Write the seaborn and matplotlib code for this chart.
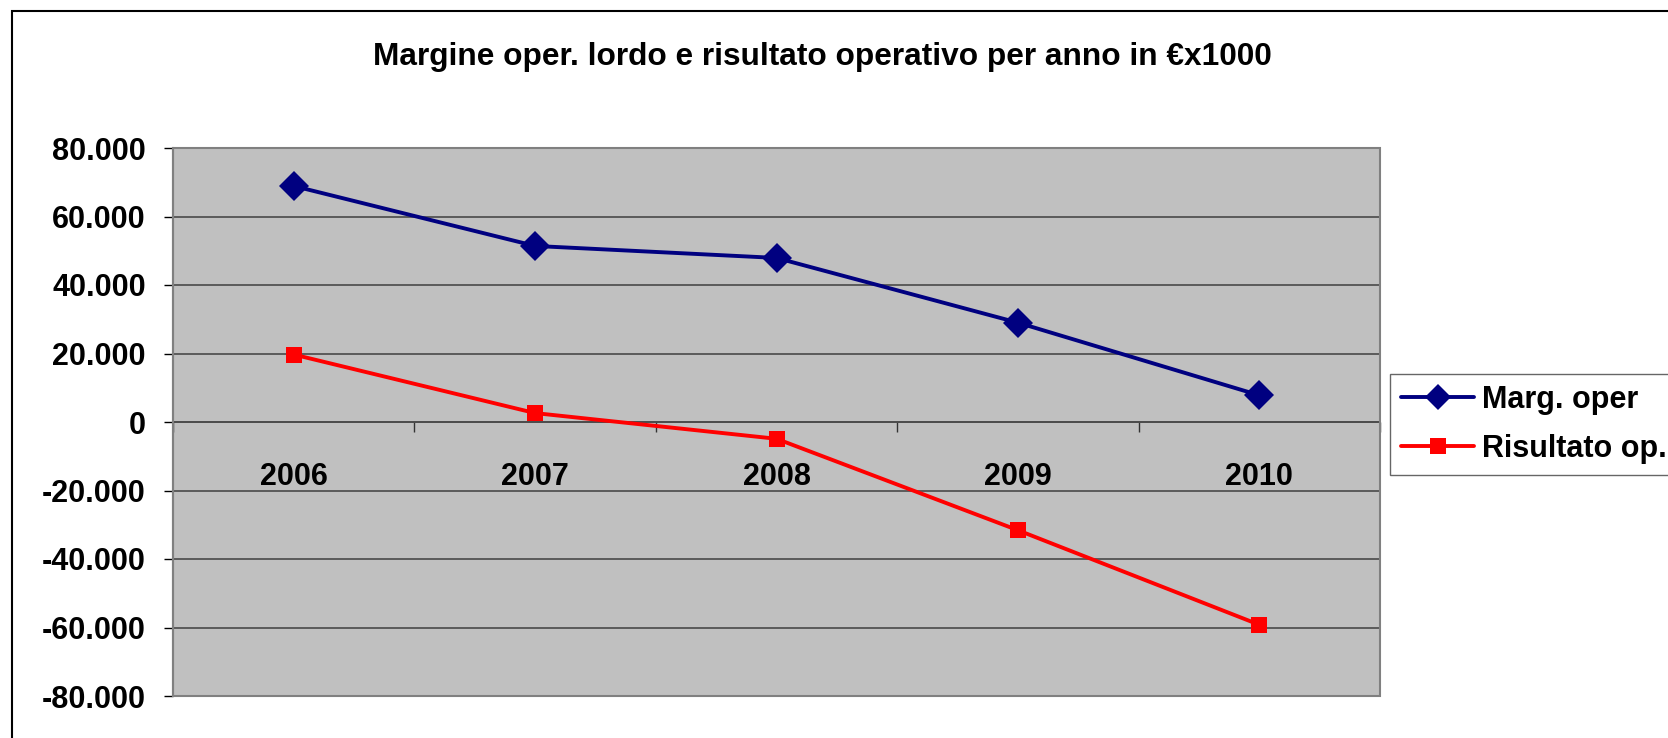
import matplotlib
matplotlib.use("Agg")
import matplotlib.pyplot as plt
import seaborn as sns
import numpy as np
import pandas as pd
from matplotlib.ticker import FuncFormatter, FixedLocator
from matplotlib.patches import Rectangle
from matplotlib.lines import Line2D

# ---- data ----
years = ["2006", "2007", "2008", "2009", "2010"]
marg_oper = [68900, 51400, 47900, 29000, 7800]
risultato_op = [19700, 2600, -4900, -31600, -59200]
series_names = ["Marg. oper", "Risultato op."]
title = "Margine oper. lordo e risultato operativo per anno in €x1000"
y_ticks = [-80000, -60000, -40000, -20000, 0, 20000, 40000, 60000, 80000]

sns.set_style("white")
plt.rcParams['font.family'] = ['Liberation Sans', 'DejaVu Sans']
plt.rcParams['font.weight'] = 'bold'
plt.rcParams['text.color'] = 'black'
plt.rcParams['xtick.color'] = 'black'
plt.rcParams['ytick.color'] = 'black'
plt.rcParams['xtick.labelcolor'] = 'black'
plt.rcParams['ytick.labelcolor'] = 'black'

W, H = 1668, 738
fig = plt.figure(figsize=(W / 100, H / 100), dpi=100)

L, R, T, B = 173, 1380, 148, 696
ax = fig.add_axes([L / W, 1 - B / H, (R - L) / W, (B - T) / H])
ax.set_facecolor("#C0C0C0")

BLUE, RED = "#000080", "#FF0000"
LW = 2.8
MS_D, MS_S = 15.5, 11

xpos = np.arange(len(years))
df = pd.DataFrame({"x": np.concatenate([xpos, xpos]),
                   "val": marg_oper + risultato_op,
                   "serie": [series_names[0]] * len(years) + [series_names[1]] * len(years)})

sns.lineplot(data=df[df.serie == series_names[0]], x="x", y="val", ax=ax,
             color=BLUE, lw=LW, marker="D", markersize=MS_D,
             markeredgewidth=0, legend=False, zorder=5)
sns.lineplot(data=df[df.serie == series_names[1]], x="x", y="val", ax=ax,
             color=RED, lw=LW, marker="s", markersize=MS_S,
             markeredgewidth=0, legend=False, zorder=5)

ax.set_xlim(-0.5, len(years) - 0.5)
ax.set_ylim(-80000, 80000)
ax.set_xlabel("")
ax.set_ylabel("")

# y axis
ax.set_yticks(y_ticks)
ax.yaxis.set_major_formatter(FuncFormatter(lambda v, p: f"{int(v):,}".replace(",", ".")))
ax.tick_params(axis="y", which="major", left=True, direction="out", length=6.5, width=1,
               color="black", pad=13, labelsize=22)
for lab in ax.get_yticklabels():
    lab.set_fontweight("bold")
ax.grid(axis="y", color="#4a4a4a", lw=1.2)
ax.grid(axis="x", visible=False)
ax.set_axisbelow(True)

# category axis at zero
for s in ["top", "right"]:
    ax.spines[s].set_visible(False)
ax.spines["left"].set_color("#808080")
ax.spines["left"].set_linewidth(1.5)
ax.spines["bottom"].set_position(("data", 0))
ax.spines["bottom"].set_color("#4a4a4a")
ax.spines["bottom"].set_linewidth(1.2)
ax.set_xticks(xpos)
ax.set_xticklabels(years)
ax.xaxis.set_minor_locator(FixedLocator(np.arange(-0.5, len(years), 1.0)))
ax.tick_params(axis="x", which="major", bottom=True, length=0, pad=28.5, labelsize=22)
ax.tick_params(axis="x", which="minor", bottom=True, length=7.2, width=1,
               color="#333333", direction="out")
for lab in ax.get_xticklabels():
    lab.set_fontweight("bold")

# plot-area border
ax.add_patch(Rectangle((0, 0), 1, 1, transform=ax.transAxes, fill=False,
                       edgecolor="#808080", lw=1.5, zorder=6, clip_on=False))

# title
fig.text(822 / W, 1 - 65 / H, title, ha="center", va="baseline",
         fontsize=22.8, fontweight="bold")

# legend
handles = [Line2D([], [], color=BLUE, lw=LW, marker="D", markersize=MS_D - 2, markeredgewidth=0),
           Line2D([], [], color=RED, lw=LW, marker="s", markersize=MS_S, markeredgewidth=0)]
leg = fig.legend(handles, series_names, loc="upper left",
                 bbox_to_anchor=(1390 / W, 1 - 374 / H),
                 prop={"size": 22, "weight": "bold"}, frameon=True, fancybox=False,
                 handlelength=2.4, handletextpad=0.26, borderpad=0.36,
                 labelspacing=0.62, borderaxespad=0)
leg.get_frame().set_edgecolor("#404040")
leg.get_frame().set_linewidth(1.0)

# outer chart border
fig.patches.append(Rectangle((12 / W, -0.05), 1.2, 1 - 11 / H + 0.05, transform=fig.transFigure,
                             fill=False, edgecolor="black", lw=1.5, zorder=0))

fig.savefig("out.png", dpi=100)
